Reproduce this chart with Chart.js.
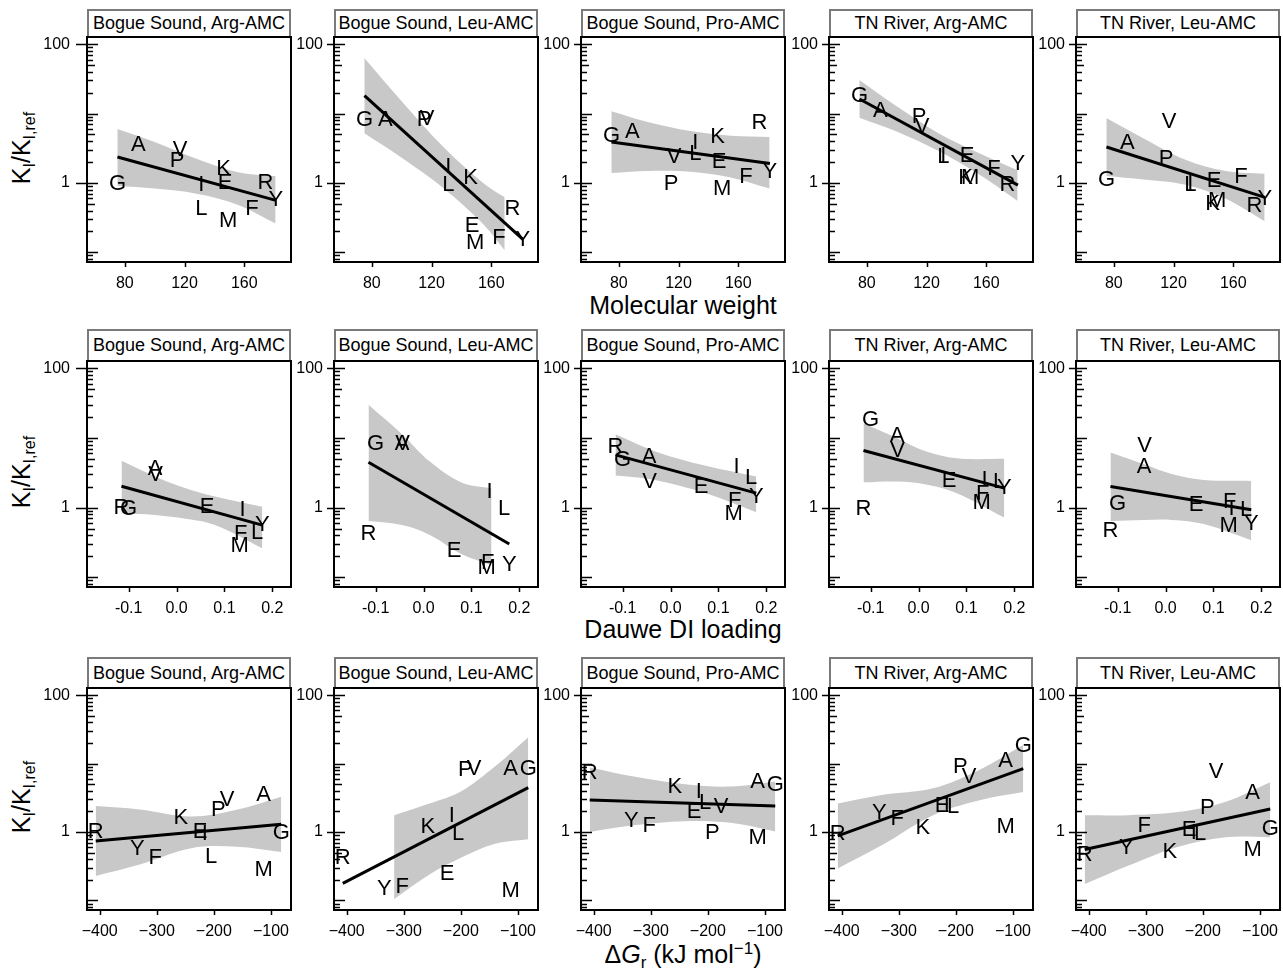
<!DOCTYPE html>
<html>
<head>
<meta charset="utf-8">
<script src="https://cdn.jsdelivr.net/npm/chart.js@4.4.1/dist/chart.umd.min.js"></script>
<style>
  body { margin: 0; background: #fff; width: 1283px; height: 972px; position: relative; overflow: hidden;
         font-family: "Liberation Sans", Arial, sans-serif; color: #000; }
  canvas { position: absolute; }
  .strip { position: absolute; box-sizing: border-box; border: 2px solid #7a7a7a; background: #fff;
           font-size: 18px; text-align: center; white-space: nowrap; }
  .xtitle { position: absolute; font-size: 25px; transform: translate(-50%, -50%); white-space: nowrap; }
  .ytitle { position: absolute; font-size: 25px; transform: translate(-50%, -50%) rotate(-90deg); white-space: nowrap; }
  .ytitle sub { font-size: 16px; vertical-align: -5px; }
  .xtitle sub { font-size: 17px; vertical-align: -5px; }
  .xtitle sup { font-size: 17px; vertical-align: 9px; }
</style>
</head>
<body>
<script>
// amino acids and their x values for each row
const aminoAcids = ['G', 'A', 'P', 'V', 'I', 'L', 'K', 'E', 'M', 'F', 'R', 'Y'];
const molWeight = [75.1, 89.1, 115.1, 117.1, 131.2, 131.2, 146.2, 147.1, 149.2, 165.2, 174.2, 181.2];
const dauweLoading = [-0.100, -0.045, null, -0.044, 0.138, 0.168, null, 0.064, 0.132, 0.134, -0.115, 0.179];
const deltaGr = [-82, -113, -192, -177, -216, -205, -258, -224, -113, -303, -407, -334];

// KI/KI,ref per panel, same order as aminoAcids
const panelTitles = ['Bogue Sound, Arg-AMC', 'Bogue Sound, Leu-AMC', 'Bogue Sound, Pro-AMC', 'TN River, Arg-AMC', 'TN River, Leu-AMC'];
const bogueArg = [1.0, 3.65, 2.15, 3.05, 0.96, 0.44, 1.65, 1.05, 0.29, 0.43, 1.02, 0.59];
const bogueLeu = [8.5, 8.5, 8.4, 8.6, 1.75, 0.98, 1.22, 0.25, 0.142, 0.165, 0.43, 0.154];
const boguePro = [4.95, 5.6, 1.0, 2.42, 3.95, 2.72, 4.7, 2.05, 0.84, 1.28, 7.6, 1.49];
const tnArg = [18.7, 11.1, 9.3, 6.7, 2.55, 2.42, 1.2, 2.5, 1.21, 1.62, 0.98, 1.95];
const tnLeu = [1.15, 3.9, 2.3, 7.85, 1.0, 0.97, 0.52, 1.11, 0.57, 1.25, 0.48, 0.6];

// fitted lines (value at left and right end)
const fitMwX = [75.1, 181.2];
const fitMw = [[2.36, 0.56], [18.1, 0.154], [3.9, 1.9], [16.2, 0.93], [3.29, 0.62]];
const fitDiX = [-0.115, 0.179];
const fitDi = [[2.02, 0.56], [4.47, 0.30], [5.7, 1.61], [6.58, 1.9], [2.0, 0.93]];
const fitDgX = [-407, -82];
const fitDg = [[0.74, 1.30], [0.177, 4.45], [2.93, 2.39], [0.877, 8.41], [0.555, 2.16]];

// confidence bands
const bandMwX = [[75, 100, 128, 155, 181], [75, 100, 128, 155, 169], [75, 100, 128, 155, 181], [75, 100, 128, 155, 181], [75, 100, 128, 155, 181]];
const bandMwHi = [[6.0, 3.9, 2.23, 1.44, 1.25], [63, 15.0, 3.29, 0.98, 0.62], [10.8, 7.5, 5.6, 4.8, 4.6], [30.4, 12.7, 5.2, 2.7, 1.52], [8.6, 4.38, 2.16, 1.49, 1.36]];
const bandMwLo = [[0.91, 0.83, 0.70, 0.49, 0.26], [5.2, 2.31, 0.84, 0.25, 0.107], [1.39, 1.49, 1.45, 1.2, 0.83], [8.7, 5.5, 2.88, 1.33, 0.55], [1.26, 1.12, 0.94, 0.59, 0.28]];
const bandDiX = [[-0.115, -0.045, 0.013, 0.08, 0.179], [-0.115, -0.045, 0.013, 0.08, 0.142], [-0.115, -0.045, 0.013, 0.08, 0.179], [-0.115, -0.045, 0.013, 0.08, 0.179], [-0.115, -0.045, 0.013, 0.08, 0.179]];
const bandDiHi = [[4.68, 2.79, 1.96, 1.44, 1.03], [29.8, 11.3, 4.57, 2.28, 1.9], [11.3, 6.95, 5.1, 3.88, 2.79], [16.2, 9.9, 6.5, 5.1, 5.0], [6.16, 4.19, 3.04, 2.49, 2.41]];
const bandDiLo = [[0.83, 0.785, 0.70, 0.56, 0.26], [0.64, 0.56, 0.405, 0.214, 0.15], [2.88, 2.58, 2.11, 1.55, 0.86], [2.3, 2.36, 2.16, 1.61, 0.72], [0.64, 0.665, 0.665, 0.58, 0.34]];
const bandDgX = [[-407, -330, -240, -160, -82], [-317, -255, -200, -140, -82], [-407, -330, -240, -160, -82], [-407, -330, -240, -160, -82], [-407, -330, -240, -160, -82]];
const bandDgHi = [[2.39, 2.13, 1.68, 2.11, 3.28], [1.76, 2.6, 3.9, 9.1, 24.3], [8.78, 6.47, 4.99, 4.61, 5.46], [2.61, 3.46, 4.34, 7.98, 18.6], [1.76, 1.76, 1.97, 2.77, 5.34]];
const bandDgLo = [[0.227, 0.334, 0.58, 0.61, 0.51], [0.105, 0.24, 0.42, 0.67, 0.78], [1.0, 1.25, 1.44, 1.36, 1.02], [0.292, 0.637, 1.76, 2.89, 3.83], [0.173, 0.323, 0.62, 0.84, 0.84]];

// axis ticks
const mwTicks = [80, 120, 160];
const diTicks = [-0.1, 0, 0.1, 0.2];
const dgTicks = [-400, -300, -200, -100];
const yLabelTicks = [1, 100];

// layout
const frameLeft = [87, 334, 581, 829, 1076];
const labelGap = [17, 11, 11, 11, 11];
const outerTick = [11, 7, 7, 7, 7];
const panelWidth = 204;
const padL = 60, padR = 14, padT = 34, padB = 40;
const yMin = 0.0724, yMax = 127;

Chart.defaults.font.family = '"Liberation Sans", Arial, sans-serif';
Chart.defaults.color = '#000';

const rowSetup = [
  { x: molWeight, min: 54.7, max: 191.3, ticks: mwTicks, fmt: v => String(v),
    fitX: fitMwX, fit: fitMw, bandX: bandMwX, hi: bandMwHi, lo: bandMwLo,
    top: 37, height: 225, stripTop: 9, titleY: 305, title: 'Molecular weight' },
  { x: dauweLoading, min: -0.187, max: 0.239, ticks: diTicks, fmt: v => v.toFixed(1),
    fitX: fitDiX, fit: fitDi, bandX: bandDiX, hi: bandDiHi, lo: bandDiLo,
    top: 361, height: 226, stripTop: 329, titleY: 629, title: 'Dauwe DI loading' },
  { x: deltaGr, min: -422.3, max: -64.9, ticks: dgTicks, fmt: v => '\u2212' + Math.abs(v),
    fitX: fitDgX, fit: fitDg, bandX: bandDgX, hi: bandDgHi, lo: bandDgLo,
    top: 688, height: 222, stripTop: 657, titleY: 956,
    title: '\u0394<i>G</i><sub>r</sub> (kJ mol<sup>\u22121</sup>)' }
];
const panelRatios = [bogueArg, bogueLeu, boguePro, tnArg, tnLeu];

const panelDecor = {
  id: 'panelDecor',
  afterDatasetsDraw(chart) {
    const ctx = chart.ctx;
    chart.data.datasets.forEach((ds, i) => {
      if (!ds.letters) return;
      const meta = chart.getDatasetMeta(i);
      ctx.save();
      ctx.font = '22px "Liberation Sans", Arial, sans-serif';
      ctx.fillStyle = '#000';
      ctx.textAlign = 'center';
      ctx.textBaseline = 'middle';
      meta.data.forEach((pt, j) => ctx.fillText(ds.letters[j], pt.x, pt.y + 1));
      ctx.restore();
    });
  },
  afterDraw(chart, args, opts) {
    const ctx = chart.ctx;
    const a = chart.chartArea;
    const { x, y } = chart.scales;
    ctx.save();
    ctx.strokeStyle = '#000';
    ctx.lineWidth = 1.5;
    ctx.beginPath();
    for (let e = -2; e <= 2; e++) {
      for (let m = 1; m <= 9; m++) {
        const v = m * Math.pow(10, e);
        if (v < y.min || v > y.max) continue;
        const py = Math.round(y.getPixelForValue(v)) + 0.5;
        const inner = m === 1 ? 11 : (m === 5 ? 8 : 6);
        const outer = (m === 1 && (e === 0 || e === 2)) ? opts.outer : 0;
        ctx.moveTo(a.left - outer, py);
        ctx.lineTo(a.left + inner, py);
      }
    }
    x.ticks.forEach(t => {
      const px = Math.round(x.getPixelForValue(t.value)) + 0.5;
      ctx.moveTo(px, a.bottom);
      ctx.lineTo(px, a.bottom + 5);
    });
    ctx.stroke();
    ctx.lineWidth = 2;
    ctx.strokeRect(a.left, a.top, a.right - a.left, a.bottom - a.top);
    ctx.restore();
  }
};

function addDiv(cls, html, style) {
  const el = document.createElement('div');
  el.className = cls;
  el.innerHTML = html;
  Object.assign(el.style, style);
  document.body.appendChild(el);
  return el;
}

rowSetup.forEach(row => {
  addDiv('xtitle', row.title, { left: '683px', top: row.titleY + 'px' });
  addDiv('ytitle', 'K<sub>I</sub>/K<sub>I,ref</sub>', { left: '23px', top: (row.top + row.height / 2 - 2) + 'px' });

  panelTitles.forEach((name, c) => {
    const stripH = row.top - row.stripTop + 1;
    addDiv('strip', name, {
      left: frameLeft[c] + 'px', top: row.stripTop + 'px',
      width: panelWidth + 'px', height: stripH + 'px', lineHeight: (stripH - 4) + 'px'
    });

    const cv = document.createElement('canvas');
    const w = panelWidth + padL + padR;
    const h = row.height + padT + padB;
    cv.width = w;
    cv.height = h;
    Object.assign(cv.style, { left: (frameLeft[c] - padL) + 'px', top: (row.top - padT) + 'px', width: w + 'px', height: h + 'px' });
    document.body.appendChild(cv);

    const ratios = panelRatios[c];
    const points = [];
    const letters = [];
    aminoAcids.forEach((aa, k) => {
      if (row.x[k] === null) return;
      points.push({ x: row.x[k], y: ratios[k] });
      letters.push(aa);
    });
    const bx = row.bandX[c];

    new Chart(cv, {
      type: 'line',
      data: {
        datasets: [
          { data: points, letters, showLine: false, pointRadius: 0 },
          {
            data: row.fitX.map((xv, k) => ({ x: xv, y: row.fit[c][k] })),
            borderColor: '#000', borderWidth: 3, pointRadius: 0, tension: 0, fill: false
          },
          {
            data: bx.map((xv, k) => ({ x: xv, y: row.hi[c][k] })),
            borderColor: 'rgba(0,0,0,0)', borderWidth: 0, pointRadius: 0, tension: 0.35,
            fill: '+1', backgroundColor: '#c8c8c8'
          },
          {
            data: bx.map((xv, k) => ({ x: xv, y: row.lo[c][k] })),
            borderColor: 'rgba(0,0,0,0)', borderWidth: 0, pointRadius: 0, tension: 0.35, fill: false
          }
        ]
      },
      options: {
        responsive: false,
        animation: false,
        devicePixelRatio: 1,
        events: [],
        layout: { padding: { top: padT, right: padR, left: 0, bottom: 0 } },
        plugins: {
          legend: { display: false },
          tooltip: { enabled: false },
          panelDecor: { outer: outerTick[c] }
        },
        scales: {
          x: {
            type: 'linear', min: row.min, max: row.max,
            grid: { display: false, drawTicks: false },
            border: { display: false },
            afterBuildTicks: s => { s.ticks = row.ticks.map(v => ({ value: v })); },
            afterFit: s => { s.height = padB; },
            ticks: { padding: 12, maxRotation: 0, minRotation: 0, autoSkip: false,
                     font: { size: 16 }, color: '#000', callback: v => row.fmt(v) }
          },
          y: {
            type: 'logarithmic', min: yMin, max: yMax,
            grid: { display: false, drawTicks: false },
            border: { display: false },
            afterBuildTicks: s => { s.ticks = yLabelTicks.map(v => ({ value: v })); },
            afterFit: s => { s.width = padL; },
            ticks: { padding: labelGap[c], font: { size: 16 }, color: '#000', callback: v => String(v) }
          }
        }
      },
      plugins: [panelDecor]
    });
  });
});
</script>
</body>
</html>
